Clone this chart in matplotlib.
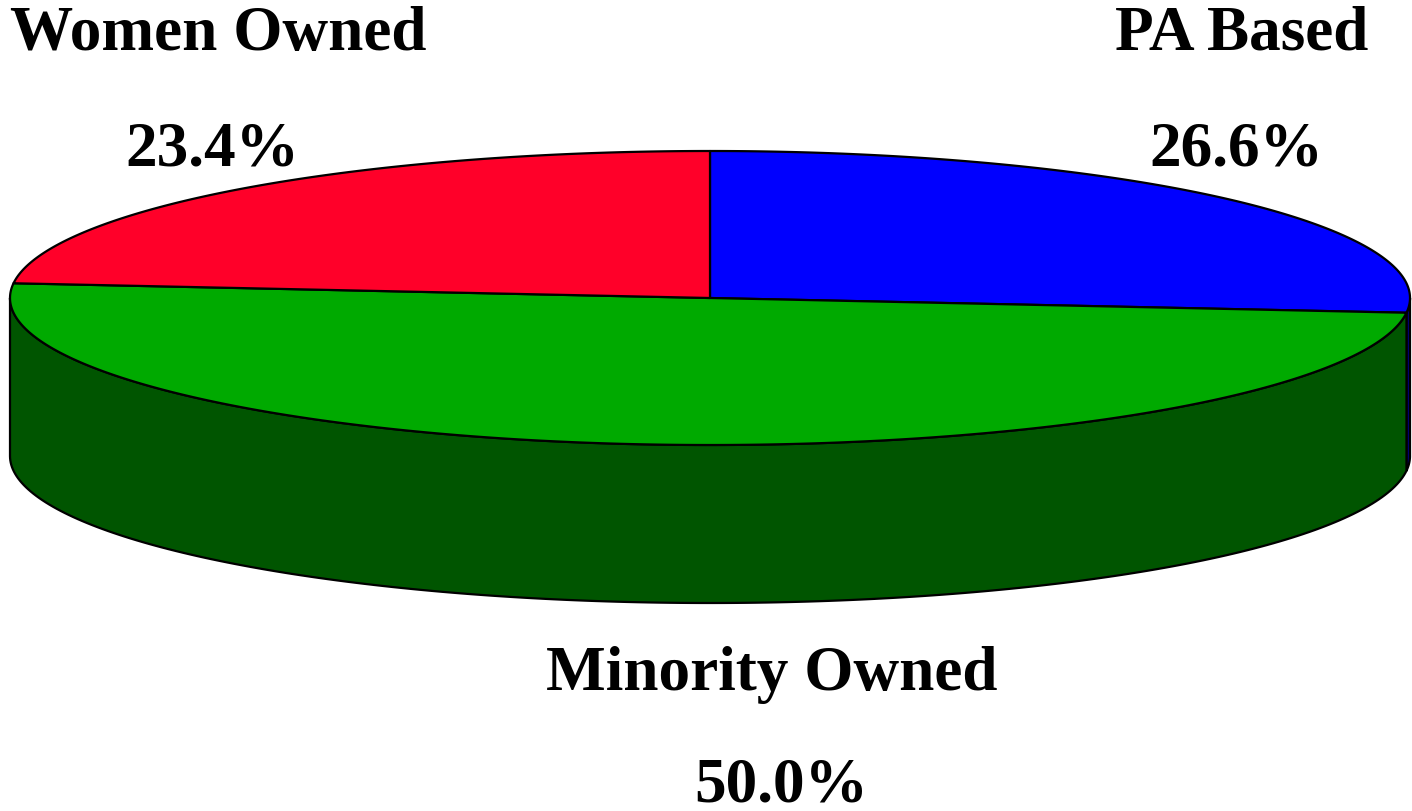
import numpy as np
import matplotlib
matplotlib.use("Agg")
import matplotlib.pyplot as plt
from matplotlib.patches import Polygon

# Data
categories = ["PA Based", "Minority Owned", "Women Owned"]
values = [26.6, 50.0, 23.4]
pct_labels = ["26.6%", "50.0%", "23.4%"]
top_colors = ["#0000FF", "#00AA00", "#FF0029"]
side_colors = ["#000080", "#005500", "#800015"]

W, H = 1412, 811
fig = plt.figure(figsize=(W / 100, H / 100), dpi=100)
ax = fig.add_axes([0, 0, 1, 1])
ax.set_xlim(0, W)
ax.set_ylim(H, 0)
ax.axis("off")

cx, cy, rx, ry, depth = 710, 298, 700, 147, 158


def pt(theta_deg, dy=0.0):
    t = np.radians(theta_deg)
    return cx + rx * np.cos(t), cy - ry * np.sin(t) + dy


# slice angles: start at 90 deg, clockwise
total = sum(values)
angles = []
start = 90.0
for v in values:
    end = start - 360.0 * v / total
    angles.append((start, end))
    start = end

# side faces (visible front half: angles between -180 and 0)
for (a0, a1), col in zip(angles, side_colors):
    hi, lo = max(a0, a1), min(a0, a1)
    for shift in (0, -360, 360):
        h, l = hi + shift, lo + shift
        s_hi, s_lo = min(h, 0), max(l, -180)
        if s_hi > s_lo:
            th = np.linspace(s_hi, s_lo, 200)
            top = [pt(t) for t in th]
            bot = [pt(t, depth) for t in th[::-1]]
            ax.add_patch(Polygon(top + bot, closed=True, facecolor=col,
                                 edgecolor="black", linewidth=1.6, joinstyle="round"))

# top faces
for (a0, a1), col in zip(angles, top_colors):
    th = np.linspace(a0, a1, 300)
    poly = [(cx, cy)] + [pt(t) for t in th]
    ax.add_patch(Polygon(poly, closed=True, facecolor=col,
                         edgecolor="black", linewidth=1.6, joinstyle="round"))

font = dict(family="Liberation Serif", fontweight="bold", fontsize=45.5, color="black")

ax.text(10, 50, categories[2], ha="left", va="baseline", **font)
ax.text(212, 165, pct_labels[2], ha="center", va="baseline", **font)
ax.text(1368, 50, categories[0], ha="right", va="baseline", **font)
ax.text(1236, 165, pct_labels[0], ha="center", va="baseline", **font)
ax.text(772, 690, categories[1], ha="center", va="baseline", **font)
ax.text(781, 802, pct_labels[1], ha="center", va="baseline", **font)

fig.savefig("out.png", dpi=100)
